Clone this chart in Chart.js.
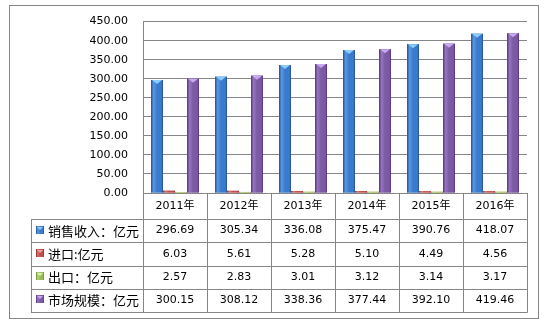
<!DOCTYPE html>
<html><head><meta charset="utf-8">
<script src="https://cdn.jsdelivr.net/npm/chart.js@4/dist/chart.umd.min.js"></script>
<style>html,body{margin:0;padding:0;background:#fff}#wrap{width:548px;height:325px;position:relative}</style>
</head><body><div id="wrap"><canvas id="c"></canvas></div>
<script>
const categories = ['2011年','2012年','2013年','2014年','2015年','2016年'];
const seriesNames = ['销售收入：亿元','进口:亿元','出口：亿元','市场规模：亿元'];
const salesRevenue = [296.69,305.34,336.08,375.47,390.76,418.07];
const importValues = [6.03,5.61,5.28,5.10,4.49,4.56];
const exportValues = [2.57,2.83,3.01,3.12,3.14,3.17];
const marketSize = [300.15,308.12,338.36,377.44,392.10,419.46];
const yMin = 0, yMax = 450, yStep = 50;

const palette = [
  {base:'#3a7bcf', dark:'#23508c', light:'#5a98e2', cap:'#8ccdfd'},
  {base:'#c0504d', dark:'#8a2e2c', light:'#d9716d', cap:'#f2a3a1'},
  {base:'#9bbb59', dark:'#6c8a36', light:'#b8d57c', cap:'#dcf3ae'},
  {base:'#7c59a5', dark:'#523778', light:'#9875c2', cap:'#c9a7f1'}
];
const GRID = '#868686';
const FONT = '"DejaVu Sans", "Noto Sans CJK SC", sans-serif';
const CJK = '"Noto Sans CJK SC", sans-serif';

const seriesData = [salesRevenue, importValues, exportValues, marketSize];

function barGrad(ctx, left, w, p){
  const g = ctx.createLinearGradient(left,0,left+w,0);
  g.addColorStop(0,p.dark); g.addColorStop(0.22,p.light); g.addColorStop(0.5,p.base); g.addColorStop(0.85,p.base); g.addColorStop(1,p.dark);
  return g;
}

const decoPlugin = {
  id:'deco',
  beforeDraw(chart){
    const ctx = chart.ctx;
    ctx.save();
    ctx.fillStyle='#fff'; ctx.fillRect(0,0,chart.width,chart.height);
    ctx.strokeStyle=GRID; ctx.lineWidth=1;
    ctx.strokeRect(9.5,5.5,529,313);
    ctx.restore();
  },
  afterDatasetsDraw(chart){
    const ctx = chart.ctx;
    ctx.save();
    chart.data.datasets.forEach((ds,di)=>{
      const meta = chart.getDatasetMeta(di);
      const p = palette[di];
      meta.data.forEach(el=>{
        const {x,y,base,width} = el.getProps(['x','y','base','width'],true);
        const left = x-width/2;
        ctx.fillStyle = barGrad(ctx,left,width,p);
        ctx.fillRect(left,y,width,base-y);
        if (base-y>5){
          ctx.fillStyle=p.cap;
          ctx.beginPath();
          ctx.moveTo(left+1,y); ctx.lineTo(left+width-1,y); ctx.lineTo(x,y+4); ctx.closePath(); ctx.fill();
        }
      });
    });
    ctx.restore();
  },
  afterDraw(chart){
    const ctx = chart.ctx, area = chart.chartArea;
    const n = categories.length;
    const cw = (area.right-area.left)/n;
    const top = area.bottom, hdrBottom = area.bottom+26;
    const rowH = 23.25, tableLeft = 31;
    const rows = seriesNames.length;
    const bottom = hdrBottom + rows*rowH;
    const px = v=>Math.round(v)+0.5;
    ctx.save();
    ctx.strokeStyle=GRID; ctx.lineWidth=1;
    ctx.beginPath();
    for(let r=0;r<=rows;r++){
      const yy = px(hdrBottom + r*rowH);
      ctx.moveTo(tableLeft,yy); ctx.lineTo(area.right+0.5,yy);
    }
    ctx.moveTo(px(tableLeft),px(hdrBottom)); ctx.lineTo(px(tableLeft),px(bottom));
    for(let i=0;i<=n;i++){
      const xx = px(area.left+i*cw);
      ctx.moveTo(xx,top); ctx.lineTo(xx,px(bottom));
    }
    ctx.stroke();
    ctx.fillStyle='#000'; ctx.textAlign='center'; ctx.textBaseline='middle';
    ctx.font='11px '+FONT;
    for(let r=0;r<rows;r++){
      const yy = hdrBottom + r*rowH + rowH/2;
      seriesData[r].forEach((v,i)=>{
        ctx.fillText(v.toFixed(2), area.left+(i+0.5)*cw, yy);
      });
      const p = palette[r];
      const mx=36, my=Math.round(yy-5);
      ctx.fillStyle = barGrad(ctx,mx,8,p);
      ctx.fillRect(mx,my,8,8);
      ctx.fillStyle=p.cap; ctx.beginPath(); ctx.moveTo(mx+1,my+1); ctx.lineTo(mx+7,my+1); ctx.lineTo(mx+4,my+4); ctx.closePath(); ctx.fill();
      ctx.fillStyle='#000'; ctx.textAlign='left'; ctx.font='13px '+CJK;
      ctx.fillText(seriesNames[r], 48, yy);
      ctx.textAlign='center'; ctx.font='11px '+FONT;
    }
    ctx.restore();
  }
};

new Chart(document.getElementById('c'),{
  type:'bar',
  data:{
    labels:categories,
    datasets: seriesNames.map((name,i)=>({
      label:name, data:seriesData[i], backgroundColor:palette[i].base,
      borderWidth:0, categoryPercentage:0.75, barPercentage:1
    }))
  },
  options:{
    responsive:true, maintainAspectRatio:false, animation:false,
    layout:{padding:{left:0,right:21,top:19,bottom:106}},
    plugins:{legend:{display:false},tooltip:{enabled:false}},
    scales:{
      x:{
        grid:{display:false,drawTicks:false},
        border:{display:false},
        ticks:{font:{size:11,family:FONT},color:'#000',padding:7,maxRotation:0},
        afterFit(s){ s.height=26; }
      },
      y:{
        min:yMin,max:yMax,
        grid:{color:GRID,drawTicks:false,lineWidth:1},
        border:{color:GRID},
        ticks:{stepSize:yStep,font:{size:11,family:FONT},color:'#000',padding:15,callback:v=>Number(v).toFixed(2)},
        afterFit(s){ s.width=143; }
      }
    }
  },
  plugins:[decoPlugin]
});
</script></body></html>
